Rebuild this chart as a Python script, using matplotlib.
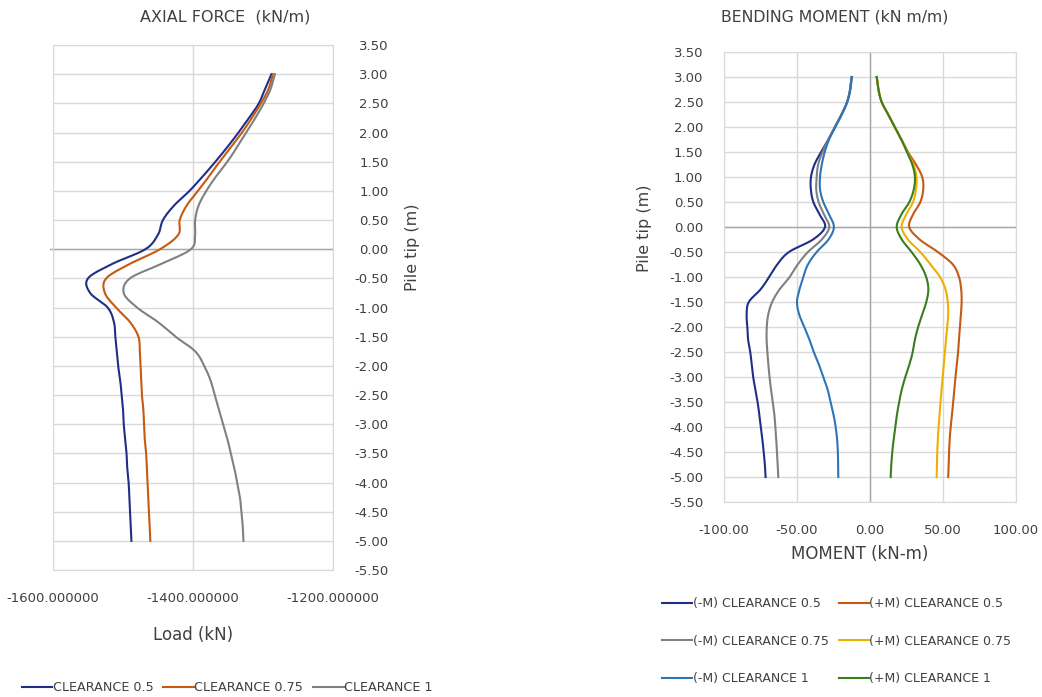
import numpy as np
import matplotlib
matplotlib.use("Agg")
import matplotlib.pyplot as plt

plt.rcParams['font.family'] = ['DejaVu Sans']

# depth below/above pile tip (m), shared by every series
depth = [3.0, 2.75, 2.5, 2.25, 2.0, 1.75, 1.5, 1.25, 1.0, 0.75, 0.5, 0.25, 0.0,
         -0.25, -0.5, -0.75, -1.0, -1.25, -1.5, -1.75, -2.0, -2.25, -2.5, -2.75,
         -3.0, -3.25, -3.5, -3.75, -4.0, -4.25, -4.5, -4.75, -5.0]

# axial force (kN)
axial_05 = [-1288, -1297, -1306, -1320, -1335, -1351, -1368, -1386, -1405, -1427, -1443,
            -1450, -1468, -1515, -1550, -1547, -1522, -1513, -1511, -1509, -1507, -1504,
            -1502, -1500, -1499, -1497, -1495, -1494, -1492, -1491, -1490, -1489, -1488]
axial_075 = [-1286, -1292, -1303, -1316, -1330, -1346, -1362, -1377, -1393, -1409, -1419,
             -1421, -1447, -1490, -1524, -1526, -1510, -1490, -1478, -1476, -1475, -1474,
             -1473, -1471, -1470, -1469, -1467, -1466, -1465, -1464, -1463, -1462, -1461]
axial_1 = [-1283, -1289, -1299, -1311, -1324, -1337, -1351, -1367, -1381, -1392, -1397,
           -1397, -1403, -1445, -1490, -1499, -1480, -1450, -1425, -1397, -1384, -1375,
           -1369, -1363, -1357, -1351, -1346, -1341, -1337, -1333, -1331, -1329, -1328]
axial_labels = ["CLEARANCE 0.5", "CLEARANCE 0.75", "CLEARANCE 1"]
axial_colors = ["#1F2F86", "#C55A11", "#808080"]

# bending moment (kN-m)
neg_05 = [-12.6, -13.6, -15.7, -19.5, -24.0, -28.5, -33.5, -38.0, -40.4, -40.5, -38.8,
          -34.5, -30.8, -39.0, -55.5, -63.5, -69.0, -75.0, -83.0, -84.5, -84.0, -83.5,
          -82.0, -81.0, -80.0, -78.5, -77.0, -75.8, -74.8, -73.7, -72.8, -72.0, -71.5]
neg_075 = [-12.6, -13.6, -15.7, -19.5, -24.0, -28.5, -32.5, -35.5, -36.5, -36.8, -35.2,
           -31.5, -27.9, -33.0, -42.5, -49.5, -55.0, -62.0, -67.0, -69.7, -70.7, -70.8,
           -70.3, -69.6, -68.8, -67.8, -66.6, -65.5, -64.8, -64.2, -63.7, -63.2, -62.8]
neg_1 = [-12.3, -13.4, -15.5, -19.3, -23.8, -28.0, -31.0, -33.0, -34.2, -34.2, -32.0,
         -28.0, -24.7, -28.4, -36.5, -42.5, -45.7, -48.3, -50.0, -48.5, -45.0, -41.5,
         -38.5, -35.0, -32.0, -29.0, -27.0, -25.0, -23.5, -22.5, -22.0, -21.8, -21.7]
pos_05 = [4.6, 5.8, 8.0, 12.5, 17.0, 21.5, 26.0, 31.5, 35.8, 36.5, 34.5,
          29.5, 26.9, 34.0, 46.5, 56.8, 61.0, 62.5, 62.8, 62.3, 61.6, 61.0,
          60.4, 59.4, 58.6, 57.8, 57.0, 56.2, 55.3, 54.6, 54.2, 53.9, 53.6]
pos_075 = [4.6, 5.8, 8.0, 12.5, 17.0, 21.5, 25.5, 29.8, 31.9, 31.5, 29.5,
           24.8, 21.7, 26.0, 34.5, 41.5, 48.0, 51.8, 53.3, 53.6, 52.9, 52.1,
           51.3, 50.5, 49.8, 49.0, 48.3, 47.7, 47.0, 46.5, 46.1, 45.9, 45.7]
pos_1 = [4.6, 5.8, 8.0, 12.5, 17.0, 21.5, 25.3, 29.0, 30.8, 30.0, 27.0,
         21.5, 18.3, 21.8, 28.5, 34.5, 38.5, 40.0, 38.6, 35.8, 33.0, 30.8,
         29.3, 27.0, 24.2, 21.8, 20.0, 18.5, 17.4, 16.2, 15.3, 14.6, 14.2]
# legend order: (-M) column then (+M) column
moment_labels = ["(-M) CLEARANCE 0.5", "(-M) CLEARANCE 0.75", "(-M) CLEARANCE 1",
                 "(+M) CLEARANCE 0.5", "(+M) CLEARANCE 0.75", "(+M) CLEARANCE 1"]
moment_colors = ["#1F2F86", "#808080", "#2E75B6", "#C55A11", "#EDB000", "#3A7D1E"]


def smooth(x, y, n=12):
    # catmull-rom through the points, like excel's smoothed line
    p = np.column_stack([x, y]).astype(float)
    p = np.vstack([p[0], p, p[-1]])
    out = []
    t = np.linspace(0, 1, n, endpoint=False)[:, None]
    for i in range(1, len(p) - 2):
        p0, p1, p2, p3 = p[i - 1], p[i], p[i + 1], p[i + 2]
        seg = 0.5 * ((2 * p1) + (-p0 + p2) * t + (2 * p0 - 5 * p1 + 4 * p2 - p3) * t ** 2
                     + (-p0 + 3 * p1 - 3 * p2 + p3) * t ** 3)
        out.append(seg)
    out.append(p[-2][None, :])
    out = np.vstack(out)
    return out[:, 0], out[:, 1]


grid_c = "#D9D9D9"
axis_c = "#A6A6A6"
text_c = "#404040"
fs = 9.5
yt = np.arange(-5.5, 3.51, 0.5)

fig = plt.figure(figsize=(10.42, 6.97), dpi=100)

# ---- axial force ----
ax1 = fig.add_axes([0.0509, 0.1822, 0.2687, 0.7532])
for vals, lab, col in zip([axial_05, axial_075, axial_1], axial_labels, axial_colors):
    sx, sy = smooth(vals, depth)
    ax1.plot(sx, sy, color=col, lw=1.5, label=lab, zorder=3)
ax1.set_xlim(-1600, -1200)
ax1.set_ylim(-5.5, 3.5)
ax1.set_xticks([-1600, -1400, -1200])
ax1.set_xticklabels(["-1600.000000", "-1400.000000", "-1200.000000"])
ax1.set_yticks(yt)
ax1.set_yticklabels([f"{v:.2f}" for v in yt])
ax1.yaxis.tick_right()
for lbl in ax1.get_yticklabels():
    lbl.set_ha("right")
ax1.grid(True, color=grid_c, lw=1.0)
ax1.axhline(0, color=axis_c, lw=1.0, zorder=2)
ax1.plot([-1605, -1600], [0, 0], color=axis_c, lw=1.0, clip_on=False)
for s in ax1.spines.values():
    s.set_color(grid_c)
ax1.tick_params(length=0, labelsize=fs, colors=text_c)
ax1.tick_params(axis="x", pad=15.5)
ax1.tick_params(axis="y", pad=40)
ax1.set_axisbelow(True)
fig.text(0.216, 0.975, "AXIAL FORCE  (kN/m)", ha="center", va="center", fontsize=11.5, color=text_c)
fig.text(0.185, 0.089, "Load (kN)", ha="center", va="center", fontsize=12, color=text_c)
fig.text(0.396, 0.645, "Pile tip (m)", ha="center", va="center", rotation=90, fontsize=11.5, color=text_c)
ax1.legend(loc="center left", bbox_to_anchor=(0.017, 0.013), bbox_transform=fig.transFigure,
           ncol=3, frameon=False, fontsize=9.2, handlelength=2.4, handletextpad=0.05,
           columnspacing=0.75, borderaxespad=0, borderpad=0.3, labelcolor=text_c)

# ---- bending moment ----
ax2 = fig.add_axes([0.6948, 0.2798, 0.2802, 0.6456])
for vals, lab, col in zip([neg_05, neg_075, neg_1, pos_05, pos_075, pos_1],
                          moment_labels, moment_colors):
    sx, sy = smooth(vals, depth)
    ax2.plot(sx, sy, color=col, lw=1.5, label=lab, zorder=3)
ax2.set_xlim(-100, 100)
ax2.set_ylim(-5.5, 3.5)
ax2.set_xticks([-100, -50, 0, 50, 100])
ax2.set_xticklabels(["-100.00", "-50.00", "0.00", "50.00", "100.00"])
ax2.set_yticks(yt)
ax2.set_yticklabels([f"{v:.2f}" for v in yt])
ax2.grid(True, color=grid_c, lw=1.0)
ax2.axhline(0, color=axis_c, lw=1.0, zorder=2)
ax2.axvline(0, color=axis_c, lw=1.0, zorder=2)
for s in ax2.spines.values():
    s.set_color(grid_c)
ax2.tick_params(length=0, labelsize=fs, colors=text_c)
ax2.tick_params(axis="x", pad=16)
ax2.tick_params(axis="y", pad=15)
ax2.set_axisbelow(True)
fig.text(0.801, 0.975, "BENDING MOMENT (kN m/m)", ha="center", va="center", fontsize=11.3, color=text_c)
fig.text(0.825, 0.205, "MOMENT (kN-m)", ha="center", va="center", fontsize=12, color=text_c)
fig.text(0.619, 0.673, "Pile tip (m)", ha="center", va="center", rotation=90, fontsize=11.5, color=text_c)
ax2.legend(loc="center left", bbox_to_anchor=(0.632, 0.080), bbox_transform=fig.transFigure,
           ncol=2, frameon=False, fontsize=9, handlelength=2.4, handletextpad=0.05,
           columnspacing=0.8, labelspacing=1.95, borderaxespad=0, borderpad=0.3,
           labelcolor=text_c)

fig.savefig("out.png", dpi=100)
